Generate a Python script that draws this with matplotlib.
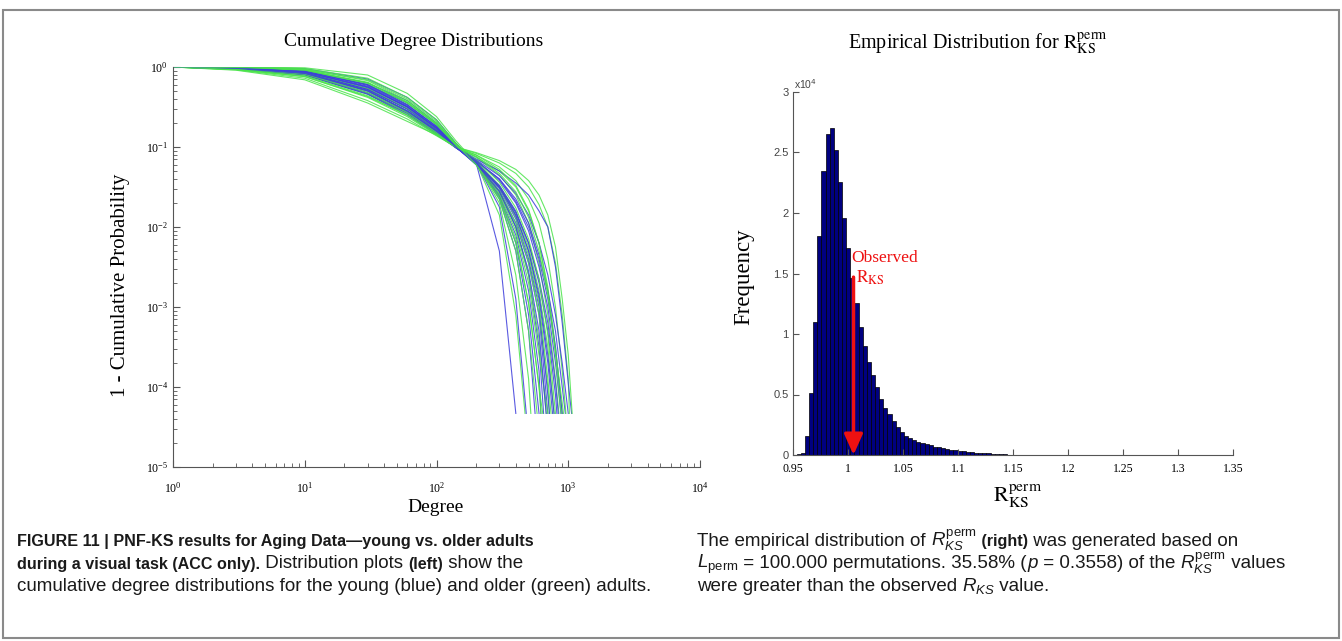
import matplotlib
matplotlib.use("Agg")
import matplotlib.pyplot as plt
from matplotlib.patches import Rectangle
from matplotlib.ticker import LogFormatterMathtext

W, H = 1342, 641

plt.rcParams['font.family'] = 'serif'
plt.rcParams['font.serif'] = ['Liberation Serif', 'DejaVu Serif']
plt.rcParams['mathtext.fontset'] = 'stix'
plt.rcParams['mathtext.rm'] = 'Liberation Sans'
plt.rcParams['mathtext.it'] = 'Liberation Sans:italic'
plt.rcParams['mathtext.bf'] = 'Liberation Sans:bold'

# ---- left panel: cumulative degree distributions (log10 of 1-CDF) ----
degree_grid = [1, 3, 10, 30, 60, 100, 140, 200, 300, 400, 500, 600, 700, 800, 900, 1000]
floor_log10p = -4.33

young_end = [400, 480, 560, 620, 650, 700, 760, 820, 880, 950, 1000, 1060, 720, 600,
             780, 840, 900, 680]
young_log10p = [
    [0, -0.005, -0.02, -0.15, -0.38, -0.66, -0.95, -1.2, -2.3],
    [0, -0.01, -0.04, -0.2, -0.42, -0.7, -0.96, -1.2, -1.75, -2.9],
    [0, -0.01, -0.05, -0.22, -0.45, -0.72, -0.98, -1.2, -1.65, -2.3, -3.3],
    [0, -0.01, -0.06, -0.25, -0.5, -0.76, -1.0, -1.22, -1.6, -2.1, -2.8, -3.8],
    [0, -0.015, -0.07, -0.28, -0.52, -0.78, -1.0, -1.2, -1.55, -2.0, -2.6, -3.5],
    [0, -0.01, -0.05, -0.22, -0.47, -0.75, -0.99, -1.22, -1.55, -1.95, -2.45, -3.1],
    [0, -0.02, -0.08, -0.3, -0.55, -0.8, -1.0, -1.18, -1.5, -1.85, -2.3, -2.9, -3.7],
    [0, -0.015, -0.07, -0.27, -0.52, -0.78, -1.0, -1.2, -1.48, -1.8, -2.2, -2.7, -3.3, -4.1],
    [0, -0.02, -0.09, -0.32, -0.57, -0.82, -1.01, -1.17, -1.42, -1.7, -2.05, -2.5, -3.0, -3.7],
    [0, -0.02, -0.08, -0.3, -0.56, -0.81, -1.0, -1.18, -1.4, -1.65, -1.95, -2.35, -2.8, -3.3, -4.0],
    [0, -0.025, -0.1, -0.34, -0.6, -0.84, -1.01, -1.16, -1.36, -1.58, -1.85, -2.2, -2.6, -3.1, -3.7],
    [0, -0.02, -0.09, -0.33, -0.58, -0.83, -1.0, -1.15, -1.3, -1.45, -1.6, -1.8, -2.0, -2.5, -3.2, -3.95],
    [0, -0.01, -0.06, -0.26, -0.5, -0.77, -1.0, -1.2, -1.52, -1.9, -2.4, -3.0, -4.1],
    [0, -0.01, -0.05, -0.23, -0.48, -0.74, -0.99, -1.21, -1.62, -2.2, -3.1],
    [0, -0.02, -0.07, -0.28, -0.53, -0.79, -1.0, -1.19, -1.5, -1.86, -2.3, -2.85, -3.6],
    [0, -0.015, -0.06, -0.25, -0.5, -0.77, -1.0, -1.21, -1.5, -1.82, -2.2, -2.65, -3.2, -3.95],
    [0, -0.02, -0.08, -0.29, -0.55, -0.8, -1.0, -1.17, -1.4, -1.68, -2.0, -2.4, -2.9, -3.5],
    [0, -0.01, -0.06, -0.24, -0.49, -0.76, -1.0, -1.21, -1.56, -2.0, -2.55, -3.3],
]

older_end = [470, 520, 580, 620, 680, 720, 780, 850, 900, 960, 1020, 1070, 740, 880,
             700, 800, 920, 640]
older_log10p = [
    [0, 0, -0.01, -0.1, -0.33, -0.62, -0.92, -1.2, -1.85, -3.1],
    [0, -0.005, -0.02, -0.14, -0.38, -0.66, -0.95, -1.2, -1.7, -2.6, -3.9],
    [0, -0.005, -0.03, -0.17, -0.42, -0.7, -0.97, -1.22, -1.65, -2.3, -3.3],
    [0, -0.01, -0.04, -0.2, -0.45, -0.72, -0.98, -1.2, -1.6, -2.15, -2.95, -4.0],
    [0, -0.01, -0.05, -0.22, -0.47, -0.74, -0.99, -1.2, -1.55, -2.0, -2.6, -3.4],
    [0, -0.01, -0.05, -0.2, -0.44, -0.72, -0.98, -1.21, -1.55, -1.95, -2.45, -3.1, -4.0],
    [0, -0.02, -0.08, -0.3, -0.55, -0.8, -1.0, -1.18, -1.48, -1.82, -2.25, -2.8, -3.5],
    [0, -0.02, -0.08, -0.3, -0.55, -0.8, -1.0, -1.13, -1.35, -1.6, -1.95, -2.45, -3.1, -3.9],
    [0, -0.025, -0.1, -0.34, -0.58, -0.83, -1.0, -1.12, -1.3, -1.5, -1.8, -2.2, -2.75, -3.5],
    [0, -0.03, -0.12, -0.38, -0.62, -0.85, -1.0, -1.1, -1.25, -1.42, -1.65, -1.95, -2.4, -3.0, -3.8],
    [0, -0.035, -0.14, -0.42, -0.65, -0.86, -1.0, -1.08, -1.2, -1.33, -1.5, -1.72, -2.0, -2.45, -3.1, -3.9],
    [0, -0.04, -0.16, -0.45, -0.68, -0.85, -1.0, -1.07, -1.17, -1.28, -1.42, -1.6, -1.85, -2.25, -2.9, -3.6],
    [0, -0.015, -0.07, -0.27, -0.52, -0.78, -1.0, -1.19, -1.5, -1.88, -2.35, -2.95, -3.9],
    [0, -0.03, -0.12, -0.37, -0.6, -0.84, -1.0, -1.1, -1.28, -1.48, -1.78, -2.2, -2.8, -3.6],
    [0, -0.01, -0.04, -0.19, -0.44, -0.71, -0.98, -1.22, -1.58, -2.05, -2.7, -3.6],
    [0, -0.02, -0.09, -0.32, -0.57, -0.82, -1.0, -1.16, -1.44, -1.76, -2.15, -2.65, -3.35],
    [0, -0.03, -0.11, -0.36, -0.6, -0.84, -1.0, -1.12, -1.33, -1.56, -1.88, -2.3, -2.85, -3.55, -4.2],
    [0, -0.005, -0.03, -0.16, -0.4, -0.68, -0.96, -1.22, -1.63, -2.2, -2.95, -4.0],
]

# ---- right panel: histogram of R_KS^perm ----
bin_start = 0.9533
bin_width = 0.00375
perm_counts = [
    50, 200, 1600, 5100, 11000, 18100, 23500, 26500, 27000, 25200,
    22600, 19600, 17100, 14600, 12600, 10600, 9000, 7700, 6600, 5600,
    4600, 3900, 3400, 2800, 2300, 1900, 1600, 1400, 1200, 1100,
    1000, 930, 800, 700, 620, 560, 500, 430, 380, 330,
    290, 260, 220, 190, 170, 150, 130, 110, 90, 70,
    60, 40, 30, 25, 20, 15, 10, 10, 8, 5,
    5, 5, 3, 3, 0, 0, 0, 0, 0, 0,
    0, 0, 0, 0, 0, 0, 0, 0, 0, 0,
    8, 8, 0, 8, 8, 8, 8, 0, 8, 8,
    8, 0, 0, 8, 8, 8, 0, 0, 0, 3,
]
observed_rks = 1.005
observed_top = 14700
hist_xticks = [0.95, 1.0, 1.05, 1.1, 1.15, 1.2, 1.25, 1.3, 1.35]
hist_xlabels = ['0.95', '1', '1.05', '1.1', '1.15', '1.2', '1.25', '1.3', '1.35']
hist_yticks = [0, 5000, 10000, 15000, 20000, 25000, 30000]
hist_ylabels = ['0', '0.5', '1', '1.5', '2', '2.5', '3']


def fx(px):
    return px / W


def fy(py):
    return 1 - py / H


fig = plt.figure(figsize=(W / 100, H / 100), dpi=100)
fig.patch.set_facecolor('white')

# outer frame
fig.add_artist(Rectangle((fx(3), fy(638)), fx(1336), 628 / H,
                         transform=fig.transFigure, fill=False,
                         edgecolor='#8a8a8a', lw=1.5))

# ---------------- left axes ----------------
ax1 = fig.add_axes([fx(173), fy(467), 527 / W, 400 / H])
ax1.set_xscale('log')
ax1.set_yscale('log')

blue = '#3d3ddc'
green = '#4ae44a'
for i in range(max(len(young_end), len(older_end))):
    for ends, logs, col in ((young_end, young_log10p, blue), (older_end, older_log10p, green)):
        if i < len(ends):
            v = logs[i]
            xs = degree_grid[:len(v)] + [ends[i]]
            ys = [10 ** a for a in v] + [10 ** floor_log10p]
            ax1.plot(xs, ys, color=col, lw=0.8, alpha=0.85)

ax1.set_xlim(1, 1e4)
ax1.set_ylim(1e-5, 1)
for s in ('top', 'right'):
    ax1.spines[s].set_visible(False)
for s in ('left', 'bottom'):
    ax1.spines[s].set_color('#555555')
    ax1.spines[s].set_linewidth(0.8)
ax1.tick_params(which='both', direction='in', colors='#555555', labelcolor='black',
                labelsize=8.5, top=False, right=False)
ax1.tick_params(which='major', length=5)
ax1.tick_params(which='minor', length=3)
ax1.xaxis.set_major_formatter(LogFormatterMathtext())
ax1.yaxis.set_major_formatter(LogFormatterMathtext())
ax1.tick_params(axis='x', pad=10)

fig.text(fx(414), fy(42), 'Cumulative Degree Distributions', fontsize=14,
         ha='center', va='center')
fig.text(fx(436), fy(508), 'Degree', fontsize=14, ha='center', va='center')
fig.text(fx(120), fy(285), '1 - Cumulative Probability', fontsize=15,
         rotation=90, ha='center', va='center')

# ---------------- right axes ----------------
ax2 = fig.add_axes([fx(793), fy(455), 440 / W, 363 / H])
centers = [bin_start + bin_width * (k + 0.5) for k in range(len(perm_counts))]
ax2.bar(centers, perm_counts, width=bin_width, color='#000080',
        edgecolor='black', linewidth=0.5)
ax2.annotate('', xy=(observed_rks, 0), xytext=(observed_rks, observed_top),
             arrowprops=dict(arrowstyle='-|>,head_length=0.9,head_width=0.4',
                             color='#ee1111', lw=2.5, shrinkA=0, shrinkB=0,
                             mutation_scale=14))
ax2.set_xlim(0.95, 1.35)
ax2.set_ylim(0, 30000)
ax2.set_xticks(hist_xticks)
ax2.set_xticklabels(hist_xlabels, fontsize=8.5)
ax2.set_yticks(hist_yticks)
ax2.set_yticklabels(hist_ylabels, fontsize=8, family='Liberation Sans', color='#444444')
for s in ('top', 'right'):
    ax2.spines[s].set_visible(False)
for s in ('left', 'bottom'):
    ax2.spines[s].set_color('#555555')
    ax2.spines[s].set_linewidth(0.8)
ax2.tick_params(which='both', direction='in', colors='#555555', length=4,
                top=False, right=False)
ax2.tick_params(axis='x', labelcolor='black', pad=6)
ax2.tick_params(axis='y', labelcolor='#444444', pad=3)

fig.text(fx(794), fy(84), r'x10$^{4}$', fontsize=7.5, family='Liberation Sans',
         color='#444444', ha='left', va='center', math_fontfamily='dejavusans')
fig.text(fx(978), fy(44), r'Empirical Distribution for $\mathrm{R}_{\mathrm{KS}}^{\mathrm{perm}}$',
         fontsize=14.5, ha='center', va='center', math_fontfamily='stix')
fig.text(fx(1018), fy(496), r'$\mathrm{R}_{\mathrm{KS}}^{\mathrm{perm}}$', fontsize=16,
         ha='center', va='center', math_fontfamily='stix')
fig.text(fx(744), fy(277), 'Frequency', fontsize=16.5, rotation=90,
         ha='center', va='center')
fig.text(fx(851), fy(258), 'Observed', fontsize=12.5, color='#ee1111',
         ha='left', va='center')
fig.text(fx(856), fy(278), r'$\mathrm{R}_{\mathrm{KS}}$', fontsize=12.5, color='#ee1111',
         ha='left', va='center', math_fontfamily='stix')

# ---------------- caption ----------------
fig.canvas.draw()
renderer = fig.canvas.get_renderer()
cap_family = 'Liberation Sans'


def text_width(s, size, kw):
    t1 = fig.text(0, 0, '|' + s + '|', fontsize=size, family=cap_family,
                  math_fontfamily='custom', **kw)
    t2 = fig.text(0, 0, '||', fontsize=size, family=cap_family,
                  math_fontfamily='custom', **kw)
    w = t1.get_window_extent(renderer).width - t2.get_window_extent(renderer).width
    t1.remove()
    t2.remove()
    return w


B = dict(weight='bold')
N = dict()
left_lines = [
    [('FIGURE 11 | PNF-KS results for Aging Data\u2014young vs. older adults', B)],
    [('during a visual task (ACC only).', B), (' Distribution plots ', N), ('(left)', B), (' show the', N)],
    [('cumulative degree distributions for the young (blue) and older (green) adults.', N)],
]
right_lines = [
    [('The empirical distribution of ', N), (r'$R_{KS}^{\mathrm{perm}}$', N), (' (right)', B),
     (' was generated based on', N)],
    [(r'$L_{\mathrm{perm}}$', N), (' = 100.000 permutations. 35.58% (', N), (r'$p$', N),
     (' = 0.3558) of the ', N), (r'$R_{KS}^{\mathrm{perm}}$', N), (' values', N)],
    [('were greater than the observed ', N), (r'$R_{KS}$', N), (' value.', N)],
]

# regular size fitted to the printed width of the last left line,
# bold kept a little smaller since the print uses a condensed bold
reg_size = 11.5 * 640 / text_width(left_lines[2][0][0], 11.5, N)
bold_size = reg_size * 0.86


def put_line(x_px, y_px, runs):
    x = x_px
    for s, kw in runs:
        size = bold_size if kw else reg_size
        fig.text(fx(x), fy(y_px), s, fontsize=size, family=cap_family,
                 math_fontfamily='custom', va='baseline', ha='left', color='#1a1a1a', **kw)
        x += text_width(s, size, kw)


for k, runs in enumerate(left_lines):
    put_line(17, 546 + 22.5 * k, runs)
for k, runs in enumerate(right_lines):
    put_line(697, 546 + 22.5 * k, runs)

fig.savefig('out.png', dpi=100, facecolor='white')
